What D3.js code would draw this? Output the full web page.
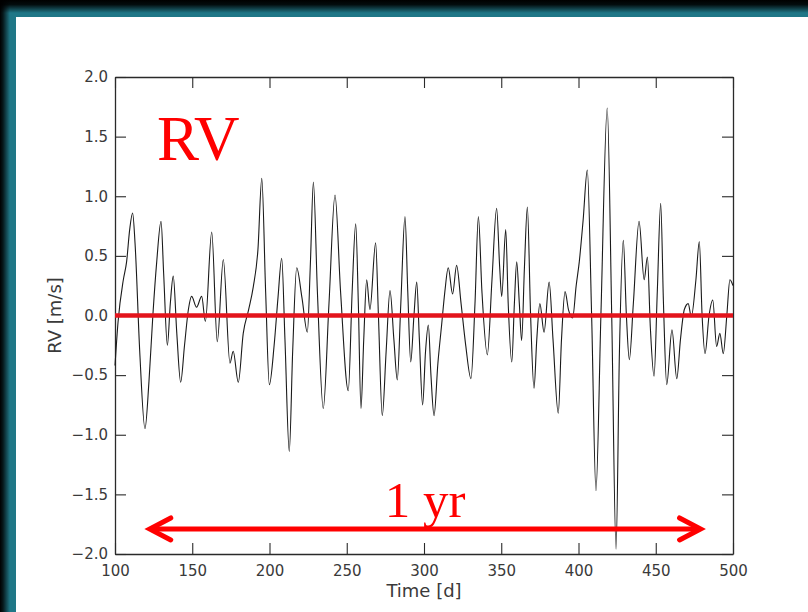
<!DOCTYPE html>
<html>
<head>
<meta charset="utf-8">
<script src="https://cdn.jsdelivr.net/npm/d3@7"></script>
<style>
  html, body { margin: 0; padding: 0; background: #000; }
  svg { display: block; }
</style>
</head>
<body>
<svg id="chart" width="808" height="612"></svg>
<script>
// Radial-velocity time series (days, m/s)
const timeDays = [
  100, 102, 105.4, 107.5, 109.5, 111.4, 113, 116, 119.4, 122, 124.5, 127, 129.8, 131.5, 133.9,
  135.8, 137.7, 140, 142.5, 145, 147.5, 149.6, 152.8, 156.1, 158.5, 162.6, 166.2, 170.1, 174.4,
  176.5, 179.8, 183, 186.5, 189.5, 192.5, 195, 197.5, 199.9, 203, 205.5, 207.9, 210, 212.8, 215,
  217.6, 221, 224.5, 226.5, 228.4, 231, 234.8, 238.5, 242.4, 246, 251, 253.5, 255.8, 257.5, 259.2,
  261, 262.9, 265, 268.7, 270.5, 273, 275.5, 278, 280.5, 282.7, 285, 287.7, 289.5, 291.4, 293.5,
  295.3, 297, 299.1, 301, 302.8, 304.5, 306.5, 309, 311.4, 313.5, 315.7, 318.5, 321.1, 324, 327,
  330.4, 333, 335.2, 337.5, 341, 344, 347, 349, 350.3, 352.9, 354.5, 356.8, 358.5, 360, 361.7,
  363.2, 365, 366.9, 369, 371.2, 373, 375, 377.7, 381, 383.5, 386.9, 389, 391.3, 393.5, 396.2,
  398.5, 400.5, 403, 405.7, 408.5, 411.3, 414.5, 418.6, 421.5, 424.3, 426.5, 429, 431, 432.9,
  435.5, 439.2, 442.5, 444.6, 446.5, 448.9, 451, 453.2, 455, 457.1, 460.5, 463.6, 466, 468.5,
  471, 473, 476, 478.2, 480, 481.9, 484.5, 486.9, 489.4, 491.5, 493.7, 496, 498, 500
];
const rvValues = [
  -0.42, -0.05, 0.30, 0.45, 0.72, 0.86, 0.60, -0.30, -0.95, -0.55, 0.0, 0.45, 0.79, 0.35, -0.25,
  0.10, 0.33, -0.15, -0.56, -0.25, 0.05, 0.16, 0.07, 0.16, -0.05, 0.70, -0.22, 0.47, -0.40,
  -0.30, -0.56, -0.15, 0.05, 0.24, 0.55, 1.15, 0.20, -0.58, -0.25, 0.15, 0.48, -0.20, -1.14, -0.30,
  0.40, 0.15, -0.14, 0.45, 1.12, 0.20, -0.78, 0.10, 1.01, 0.20, -0.63, 0.20, 0.77, 0.10, -0.78,
  -0.20, 0.30, 0.05, 0.61, 0.0, -0.84, -0.30, 0.21, -0.20, -0.54, 0.10, 0.83, 0.20, -0.39, 0.0,
  0.28, -0.20, -0.75, -0.30, -0.08, -0.50, -0.84, -0.40, -0.08, 0.20, 0.40, 0.18, 0.42, 0.10, -0.25,
  -0.53, 0.10, 0.83, 0.20, -0.33, 0.30, 0.90, 0.40, 0.16, 0.72, 0.10, -0.39, 0.10, 0.45, 0.10,
  -0.21, 0.40, 0.91, 0.0, -0.61, -0.20, 0.10, -0.14, 0.28, -0.20, -0.82, -0.20, 0.20, 0.05, -0.02,
  0.25, 0.45, 0.80, 1.22, 0.0, -1.47, 0.0, 1.74, 0.0, -1.96, -0.30, 0.63, 0.0, -0.37,
  0.10, 0.79, 0.30, 0.49, -0.10, -0.51, 0.20, 0.94, 0.10, -0.58, -0.12, -0.53, -0.20, 0.05,
  0.10, -0.01, 0.30, 0.62, 0.0, -0.32, 0.0, 0.13, -0.26, -0.15, -0.32, 0.0, 0.30, 0.25
];

const xTicks = [100, 150, 200, 250, 300, 350, 400, 450, 500];
const yTicks = [-2.0, -1.5, -1.0, -0.5, 0.0, 0.5, 1.0, 1.5, 2.0];
const xDomain = [100, 500];
const yDomain = [-2, 2];
const zeroLevel = [0];            // reference line at RV = 0
const yearSpan = [122.5, 479];    // span marked with the double arrow
const yearArrowLevel = -1.79;     // RV level at which the arrow is drawn

const svg = d3.select("#chart");
const W = 808, H = 612;
const plot = { left: 115, top: 77, right: 733, bottom: 554 };

// ---- slide frame: dark teal border with black fade at the outer edge ----
const defs = svg.append("defs");
const gTop = defs.append("linearGradient").attr("id", "fadeTop")
  .attr("x1", 0).attr("y1", 0).attr("x2", 0).attr("y2", 1);
gTop.append("stop").attr("offset", "0%").attr("stop-color", "#000").attr("stop-opacity", 1);
gTop.append("stop").attr("offset", "35%").attr("stop-color", "#000").attr("stop-opacity", 0.9);
gTop.append("stop").attr("offset", "100%").attr("stop-color", "#000").attr("stop-opacity", 0);
const gLeft = defs.append("linearGradient").attr("id", "fadeLeft")
  .attr("x1", 0).attr("y1", 0).attr("x2", 1).attr("y2", 0);
gLeft.append("stop").attr("offset", "0%").attr("stop-color", "#000").attr("stop-opacity", 1);
gLeft.append("stop").attr("offset", "30%").attr("stop-color", "#000").attr("stop-opacity", 0.8);
gLeft.append("stop").attr("offset", "100%").attr("stop-color", "#000").attr("stop-opacity", 0);

svg.append("rect").attr("width", W).attr("height", H).attr("fill", "#1f7787");
svg.append("rect").attr("width", W).attr("height", 13).attr("fill", "url(#fadeTop)");
svg.append("rect").attr("width", 10).attr("height", H).attr("fill", "url(#fadeLeft)");
svg.append("rect").attr("x", 16).attr("y", 17).attr("width", W - 16).attr("height", H - 17)
  .attr("fill", "#ffffff");

// ---- scales ----
const x = d3.scaleLinear().domain(xDomain).range([plot.left, plot.right]);
const y = d3.scaleLinear().domain(yDomain).range([plot.bottom, plot.top]);

const fmtY = d3.format(".1f");
const tickLen = 11;
const axisColor = "#2a2a2a";
const labelColor = "#3a3a3a";

function styleAxis(g) {
  g.selectAll(".domain").attr("stroke", axisColor).attr("stroke-width", 1.3);
  g.selectAll(".tick line").attr("stroke", axisColor).attr("stroke-width", 1.1);
  g.selectAll(".tick text")
    .attr("fill", labelColor)
    .style("font-family", "'DejaVu Sans', sans-serif")
    .style("font-size", "15px");
}

// bottom axis with labels, ticks pointing inward
svg.append("g")
  .attr("transform", `translate(0,${plot.bottom})`)
  .call(d3.axisBottom(x).tickValues(xTicks).tickFormat(d3.format("d"))
    .tickSizeInner(-tickLen).tickSizeOuter(0).tickPadding(11))
  .call(styleAxis);

// top axis, ticks only
svg.append("g")
  .attr("transform", `translate(0,${plot.top})`)
  .call(d3.axisTop(x).tickValues(xTicks).tickFormat("")
    .tickSizeInner(-tickLen).tickSizeOuter(0))
  .call(styleAxis);

// left axis with labels
svg.append("g")
  .attr("transform", `translate(${plot.left},0)`)
  .call(d3.axisLeft(y).tickValues(yTicks).tickFormat(fmtY)
    .tickSizeInner(-tickLen).tickSizeOuter(0).tickPadding(7))
  .call(styleAxis);

// right axis, ticks only
svg.append("g")
  .attr("transform", `translate(${plot.right},0)`)
  .call(d3.axisRight(y).tickValues(yTicks).tickFormat("")
    .tickSizeInner(-tickLen).tickSizeOuter(0))
  .call(styleAxis);

// axis titles
svg.append("text")
  .attr("x", (plot.left + plot.right) / 2).attr("y", 597)
  .attr("text-anchor", "middle")
  .attr("fill", labelColor)
  .style("font-family", "'DejaVu Sans', sans-serif").style("font-size", "18px")
  .text("Time [d]");

svg.append("text")
  .attr("transform", `translate(61,${(plot.top + plot.bottom) / 2}) rotate(-90)`)
  .attr("text-anchor", "middle")
  .attr("fill", labelColor)
  .style("font-family", "'DejaVu Sans', sans-serif").style("font-size", "18px")
  .text("RV [m/s]");

// ---- RV curve ----
const series = timeDays.map((t, i) => ({ t, v: rvValues[i] }));
const line = d3.line()
  .x(d => x(d.t))
  .y(d => y(d.v))
  .curve(d3.curveMonotoneX);

svg.append("path")
  .datum(series)
  .attr("fill", "none")
  .attr("stroke", "#1a1a1a")
  .attr("stroke-width", 1.1)
  .attr("stroke-linejoin", "round")
  .attr("d", line);

// ---- zero reference line ----
svg.selectAll("line.zero")
  .data(zeroLevel)
  .join("line")
  .attr("class", "zero")
  .attr("x1", x(xDomain[0])).attr("x2", x(xDomain[1]))
  .attr("y1", d => y(d)).attr("y2", d => y(d))
  .attr("stroke", "#e3141c")
  .attr("stroke-width", 4.5);

// ---- annotations ----
const red = "#ff0000";
svg.append("text")
  .attr("x", 157).attr("y", 160)
  .attr("fill", red)
  .style("font-family", "'Liberation Serif', 'Times New Roman', serif")
  .style("font-size", "63px")
  .text("RV");

const ay = y(yearArrowLevel);
const ax0 = x(yearSpan[0]), ax1 = x(yearSpan[1]);
const head = { len: 21, half: 11 };
const arrow = svg.append("g")
  .attr("stroke", red).attr("stroke-width", 5).attr("fill", "none")
  .attr("stroke-linecap", "round").attr("stroke-linejoin", "miter");
arrow.append("line").attr("x1", ax0 + 2).attr("x2", ax1 - 2).attr("y1", ay).attr("y2", ay);
arrow.append("polyline")
  .attr("points", `${ax0 + head.len},${ay - head.half} ${ax0},${ay} ${ax0 + head.len},${ay + head.half}`);
arrow.append("polyline")
  .attr("points", `${ax1 - head.len},${ay - head.half} ${ax1},${ay} ${ax1 - head.len},${ay + head.half}`);

svg.append("text")
  .attr("x", (x(119.5) + x(482)) / 2).attr("y", ay - 12)
  .attr("text-anchor", "middle")
  .attr("fill", red)
  .style("font-family", "'Liberation Serif', 'Times New Roman', serif")
  .style("font-size", "51px")
  .text("1 yr");
</script>
</body>
</html>
